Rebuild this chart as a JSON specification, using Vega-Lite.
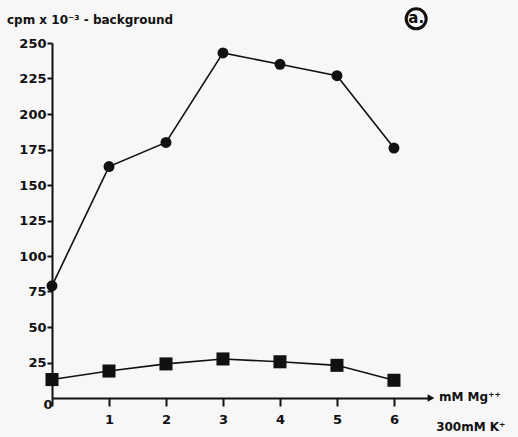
{
  "$schema": "https://vega.github.io/schema/vega-lite/v6.json",
  "width": 379,
  "height": 355,
  "autosize": {"type": "none"},
  "padding": {"left": 52, "top": 43, "right": 87, "bottom": 39},
  "background": "#f7f7f7",
  "config": {
    "view": {"stroke": null},
    "font": "DejaVu Sans",
    "axis": {"grid": false, "domainColor": "#111", "tickColor": "#111", "labelColor": "#111", "labelFont": "DejaVu Sans", "labelFontWeight": "bold", "labelFontSize": 13, "labelOverlap": false, "labelBound": false, "labelFlush": false}
  },
  "datasets": {
    "series": [
      {"mg": 0, "cpm": 79, "cond": "circle"},
      {"mg": 1, "cpm": 163, "cond": "circle"},
      {"mg": 2, "cpm": 180, "cond": "circle"},
      {"mg": 3, "cpm": 243, "cond": "circle"},
      {"mg": 4, "cpm": 235, "cond": "circle"},
      {"mg": 5, "cpm": 227, "cond": "circle"},
      {"mg": 6, "cpm": 176, "cond": "circle"},
      {"mg": 0, "cpm": 13, "cond": "square"},
      {"mg": 1, "cpm": 19, "cond": "square"},
      {"mg": 2, "cpm": 24, "cond": "square"},
      {"mg": 3, "cpm": 27.5, "cond": "square"},
      {"mg": 4, "cpm": 25.5, "cond": "square"},
      {"mg": 5, "cpm": 23, "cond": "square"},
      {"mg": 6, "cpm": 12.5, "cond": "square"}
    ],
    "labels": [
      {"x": -0.79, "y": 266, "t": "cpm x 10⁻³ - background", "size": 12},
      {"x": 6.79, "y": 0.5, "t": "mM Mg⁺⁺", "size": 12},
      {"x": 6.74, "y": -20.5, "t": "300mM K⁺", "size": 12},
      {"x": -0.15, "y": -5, "t": "0", "size": 13}
    ]
  },
  "layer": [
    {
      "data": {"name": "series"},
      "mark": {"type": "line", "color": "#111", "strokeWidth": 1.6},
      "encoding": {
        "x": {"field": "mg", "type": "quantitative", "scale": {"domain": [0, 6.65], "nice": false},
          "axis": {"values": [0, 1, 2, 3, 4, 5, 6], "tickCount": 20, "format": "d", "title": null, "domainWidth": 2, "tickWidth": 2, "tickSize": 8, "labelPadding": 7, "labelExpr": "datum.value == 0 ? '' : datum.label"}},
        "y": {"field": "cpm", "type": "quantitative", "scale": {"domain": [0, 250], "nice": false},
          "axis": {"values": [25, 50, 75, 100, 125, 150, 175, 200, 225, 250], "tickCount": 20, "format": "d", "title": null, "domainWidth": 2, "tickWidth": 2, "tickSize": 5, "labelPadding": 1}},
        "detail": {"field": "cond"}
      }
    },
    {
      "data": {"name": "series"},
      "mark": {"type": "point", "filled": true, "color": "#111", "opacity": 1},
      "encoding": {
        "x": {"field": "mg", "type": "quantitative"},
        "y": {"field": "cpm", "type": "quantitative"},
        "shape": {"field": "cond", "type": "nominal", "scale": {"domain": ["circle", "square"], "range": ["circle", "square"]}, "legend": null},
        "size": {"field": "cond", "type": "nominal", "scale": {"domain": ["circle", "square"], "range": [120, 170]}, "legend": null}
      }
    },
    {
      "data": {"values": [{"x": 6.65, "y": 0}]},
      "mark": {"type": "point", "shape": "triangle-right", "filled": true, "color": "#111", "size": 60, "opacity": 1},
      "encoding": {"x": {"field": "x", "type": "quantitative"}, "y": {"field": "y", "type": "quantitative"}}
    },
    {
      "data": {"name": "labels"},
      "mark": {"type": "text", "align": "left", "baseline": "middle", "fontWeight": "bold", "color": "#111", "font": "DejaVu Sans"},
      "encoding": {
        "x": {"field": "x", "type": "quantitative"},
        "y": {"field": "y", "type": "quantitative"},
        "text": {"field": "t"},
        "size": {"field": "size", "type": "quantitative", "scale": null}
      }
    },
    {
      "data": {"values": [{"x": 6.39, "y": 267, "t": "a."}]},
      "layer": [
        {"mark": {"type": "point", "shape": "circle", "filled": false, "stroke": "#111", "strokeWidth": 3, "size": 400, "opacity": 1},
         "encoding": {"x": {"field": "x", "type": "quantitative"}, "y": {"field": "y", "type": "quantitative"}}},
        {"mark": {"type": "text", "align": "center", "baseline": "middle", "fontWeight": "bold", "fontSize": 15, "color": "#111", "font": "DejaVu Sans", "dy": -1},
         "encoding": {"x": {"field": "x", "type": "quantitative"}, "y": {"field": "y", "type": "quantitative"}, "text": {"field": "t"}}}
      ]
    }
  ]
}
